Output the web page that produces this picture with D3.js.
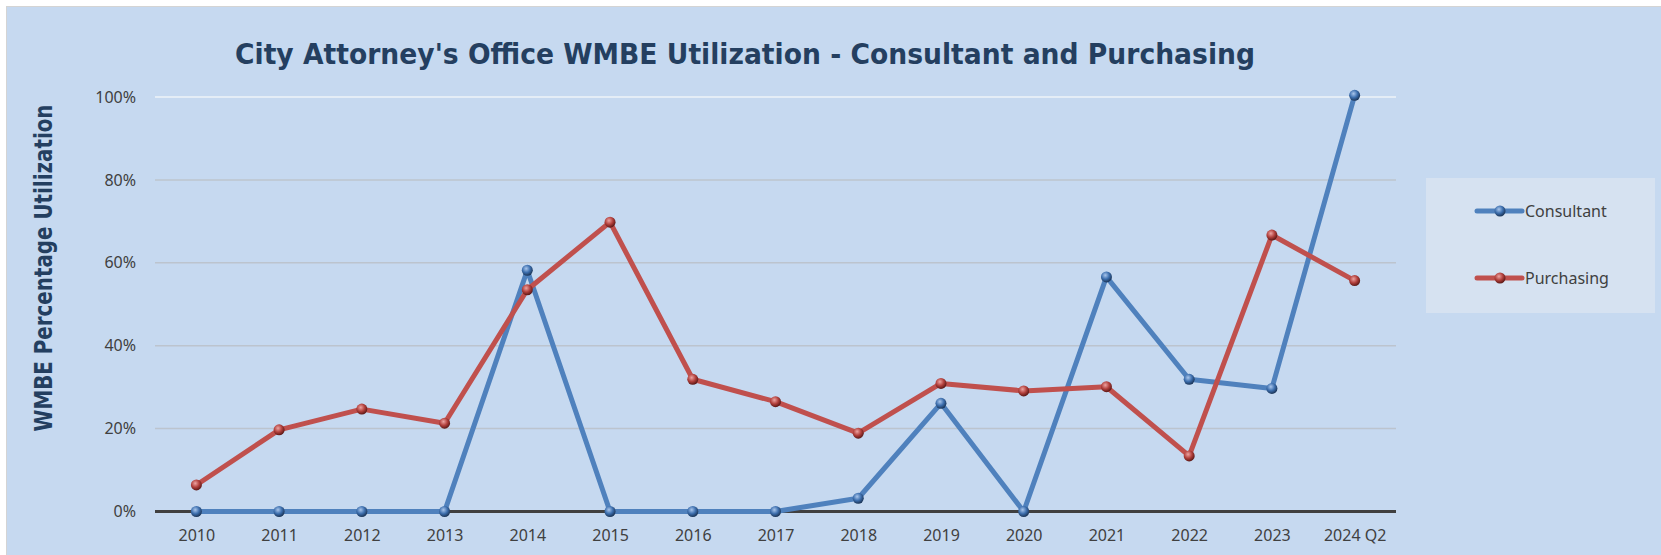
<!DOCTYPE html>
<meta charset="utf-8">
<script src="https://cdn.jsdelivr.net/npm/d3@7"></script>
<style>
  body { margin: 0; background: #fff; }
  text { font-family: "Noto Sans", "Open Sans", sans-serif; fill: #404040; }
  .title, .ytitle { font-family: "DejaVu Sans", sans-serif; font-weight: bold; fill: #243f60; }
</style>
<body>
<script>

  var years = ["2010", "2011", "2012", "2013", "2014", "2015", "2016", "2017",
               "2018", "2019", "2020", "2021", "2022", "2023", "2024 Q2"];
  var consultant = [0, 0, 0, 0, 58.2, 0, 0, 0, 3.2, 26.1, 0, 56.6, 31.9, 29.7, 100.4];
  var purchasing = [6.4, 19.7, 24.7, 21.3, 53.5, 69.8, 31.9, 26.5, 18.9, 30.9, 29.1, 30.1, 13.4, 66.7, 55.7];
  var yTicks = [0, 20, 40, 60, 80, 100];

  var width = 1661,
      height = 555;

  var svg = d3.select("body").append("svg")
      .attr("width", width)
      .attr("height", height);

  // gradients for the little spheres
  var defs = svg.append("defs");
  function ball(id, c0, c1, c2) {
    var g = defs.append("radialGradient").attr("id", id)
        .attr("cx", "40%").attr("cy", "35%").attr("r", "65%");
    g.append("stop").attr("offset", "0%").attr("stop-color", c0);
    g.append("stop").attr("offset", "55%").attr("stop-color", c1);
    g.append("stop").attr("offset", "100%").attr("stop-color", c2);
  }
  ball("ballBlue", "#a9c6ec", "#3d6fae", "#1b3558");
  ball("ballRed", "#eda3a1", "#b2403c", "#5c1816");

  // chart background
  svg.append("rect")
      .attr("x", 6.5).attr("y", 6.5)
      .attr("width", width).attr("height", height)
      .attr("fill", "#c6d9f0")
      .attr("stroke", "#d4d4d4");

  var x = d3.scalePoint()
      .domain(years)
      .range([155, 1396])
      .padding(0.5);

  var y = d3.scaleLinear()
      .domain([0, 100])
      .range([511.5, 97]);

  // gridlines
  svg.append("g")
      .selectAll("line")
      .data(yTicks.filter(function(d) { return d > 0; }))
      .enter().append("line")
      .attr("x1", 155).attr("x2", 1396)
      .attr("y1", function(d) { return y(d); })
      .attr("y2", function(d) { return y(d); })
      .attr("stroke", function(d) { return d == 100 ? "#eef3f9" : "#bcc4ce"; })
      .attr("stroke-width", 1.5);

  // y axis labels
  var yAxis = svg.append("g")
      .attr("transform", "translate(144,0)")
      .call(d3.axisLeft(y).tickValues(yTicks).tickSize(0).tickPadding(8)
        .tickFormat(function(d) { return d + "%"; }));
  yAxis.select(".domain").remove();
  yAxis.selectAll("text")
      .style("font-size", "16px")
      .style("font-family", "Noto Sans")
      .attr("fill", "#404040");

  // x axis labels
  var xAxis = svg.append("g")
      .attr("transform", "translate(0," + y(0) + ")")
      .call(d3.axisBottom(x).tickSize(0).tickPadding(18));
  xAxis.select(".domain").remove();
  xAxis.selectAll("text")
      .style("font-size", "16px")
      .style("font-family", "Noto Sans")
      .attr("fill", "#404040");

  // zero line
  svg.append("line")
      .attr("x1", 155).attr("x2", 1396)
      .attr("y1", y(0)).attr("y2", y(0))
      .attr("stroke", "#404040")
      .attr("stroke-width", 3);

  var series = [
    {name: "Consultant", values: consultant, color: "#4f81bd", ball: "url(#ballBlue)"},
    {name: "Purchasing", values: purchasing, color: "#c0504d", ball: "url(#ballRed)"}
  ];

  var line = d3.line()
      .x(function(d, i) { return x(years[i]); })
      .y(function(d) { return y(d); });

  series.forEach(function(s) {
    svg.append("path")
        .datum(s.values)
        .attr("d", line)
        .attr("fill", "none")
        .attr("stroke", s.color)
        .attr("stroke-width", 5)
        .attr("stroke-linejoin", "round");

    svg.append("g")
        .selectAll("circle")
        .data(s.values)
        .enter().append("circle")
        .attr("cx", function(d, i) { return x(years[i]); })
        .attr("cy", function(d) { return y(d); })
        .attr("r", 5.5)
        .attr("fill", s.ball);
  });

  // title
  svg.append("text")
      .attr("class", "title")
      .attr("x", 745)
      .attr("y", 64)
      .attr("text-anchor", "middle")
      .attr("textLength", 1020)
      .attr("lengthAdjust", "spacingAndGlyphs")
      .style("font-size", "29px")
      .text("City Attorney's Office WMBE Utilization - Consultant and Purchasing");

  // y axis title
  svg.append("text")
      .attr("class", "ytitle")
      .attr("transform", "translate(52,268) rotate(-90)")
      .attr("text-anchor", "middle")
      .attr("textLength", 327)
      .attr("lengthAdjust", "spacingAndGlyphs")
      .style("font-size", "24px")
      .text("WMBE Percentage Utilization");

  // legend
  var legend = svg.append("g");
  legend.append("rect")
      .attr("x", 1426).attr("y", 178)
      .attr("width", 229).attr("height", 135)
      .attr("fill", "#d6e2f1");

  var item = legend.selectAll(".item")
      .data(series)
      .enter().append("g")
      .attr("class", "item")
      .attr("transform", function(d, i) { return "translate(1477," + (211 + i * 67) + ")"; });

  item.append("line")
      .attr("x1", 0).attr("x2", 45)
      .attr("stroke", function(d) { return d.color; })
      .attr("stroke-width", 5)
      .attr("stroke-linecap", "round");

  item.append("circle")
      .attr("cx", 23).attr("r", 5.5)
      .attr("fill", function(d) { return d.ball; });

  item.append("text")
      .attr("x", 48)
      .attr("dy", "0.35em")
      .style("font-size", "16px")
      .text(function(d) { return d.name; });

</script>
</body>
</html>
